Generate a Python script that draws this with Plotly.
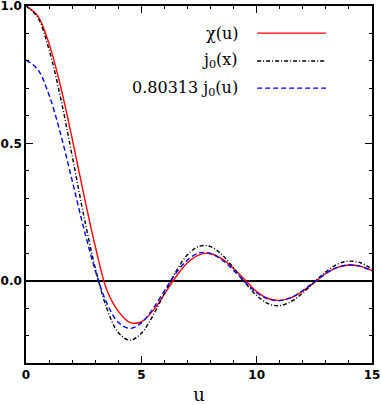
import plotly.graph_objects as go

# sample points along u
u = [0.0, 0.5, 1.0, 1.5, 2.0, 2.5, 3.0, 3.5, 4.0, 4.5, 5.0, 5.5, 6.0, 6.5, 7.0, 7.5,
     8.0, 8.5, 9.0, 9.5, 10.0, 10.5, 11.0, 11.5, 12.0, 12.5, 13.0, 13.5, 14.0, 14.5, 15.0]

# chi(u), red solid
chi = [1.000, 0.965, 0.863, 0.707, 0.518, 0.316, 0.126, -0.033, -0.111, -0.152, -0.150,
       -0.110, -0.049, 0.014, 0.065, 0.094, 0.098, 0.079, 0.044, 0.002, -0.040, -0.065,
       -0.072, -0.062, -0.038, -0.007, 0.026, 0.048, 0.057, 0.052, 0.037]

# j0(x), black dash-dot
j0 = [1.000, 0.959, 0.841, 0.665, 0.455, 0.239, 0.047, -0.100, -0.189, -0.217, -0.192,
      -0.128, -0.047, 0.033, 0.094, 0.125, 0.124, 0.094, 0.046, -0.008, -0.054, -0.084,
      -0.091, -0.076, -0.045, -0.005, 0.032, 0.060, 0.071, 0.065, 0.043]

# 0.80313 j0(u), blue dashed
j0_scaled = [0.803, 0.770, 0.676, 0.534, 0.365, 0.192, 0.038, -0.081, -0.152, -0.174, -0.154,
             -0.103, -0.037, 0.027, 0.075, 0.101, 0.099, 0.075, 0.037, -0.006, -0.044, -0.067,
             -0.073, -0.061, -0.036, -0.004, 0.026, 0.048, 0.057, 0.052, 0.035]

labels = ["\u03c7(u)", "j<sub>0</sub>(x)", "0.80313 j<sub>0</sub>(u)"]
colors = ["#ff0000", "#000000", "#0000ff"]
dashes = ["solid", "4px,2px,1px,2px", "5px,3px"]

fig = go.Figure()
for ys, name, c, d in [(chi, labels[0], colors[0], dashes[0]),
                       (j0, labels[1], colors[1], dashes[1]),
                       (j0_scaled, labels[2], colors[2], dashes[2])]:
    fig.add_trace(go.Scatter(x=u, y=ys, mode="lines", name=name,
                             line=dict(color=c, width=1.4, dash=d, shape="spline"),
                             showlegend=False))

# hand-made legend: text on the left, line sample on the right
leg_y = [0.924, 0.846, 0.770]
for name, c, d, yy in zip(labels, colors, dashes, leg_y):
    fig.add_annotation(x=0.618, y=yy, xref="paper", yref="paper", text=name,
                       showarrow=False, xanchor="right", yanchor="middle",
                       font=dict(family="DejaVu Serif", size=16, color="black"))
    fig.add_shape(type="line", xref="paper", yref="paper", x0=0.668, x1=0.867,
                  y0=yy, y1=yy, line=dict(color=c, width=1.4, dash=d))

axis_common = dict(
    showgrid=False, showline=True, linecolor="black", linewidth=1.5, mirror="ticks",
    ticks="inside", ticklen=7, tickwidth=1.2, tickcolor="black", automargin=False,
    ticklabeloverflow="allow",
    tickfont=dict(family="DejaVu Sans", size=12, color="black", weight="bold"),
)

fig.update_xaxes(range=[0, 15], tickvals=[0, 5, 10, 15], ticktext=["0", "5", "10", "15"],
                 minor=dict(ticks="inside", ticklen=3, tickwidth=1.2, tickcolor="black", dtick=1),
                 zeroline=False,
                 title=dict(text="u", font=dict(family="DejaVu Serif", size=18, color="black"),
                            standoff=7),
                 **axis_common)
fig.update_yaxes(range=[-0.3, 1.0], tickvals=[0.0, 0.5, 1.0], ticktext=["0.0", "0.5", "1.0"],
                 minor=dict(ticks="inside", ticklen=3, tickwidth=1.2, tickcolor="black", dtick=0.1),
                 zeroline=True, zerolinecolor="black", zerolinewidth=1.5,
                 **axis_common)

fig.update_layout(width=381, height=405, margin=dict(l=26, r=9, t=6, b=42),
                  plot_bgcolor="white", paper_bgcolor="white")

# page body has a default margin; drop it so the figure sits at the window corner
fig.write_html("out.html", config={"displayModeBar": False},
               post_script="document.body.style.margin='0px';")
